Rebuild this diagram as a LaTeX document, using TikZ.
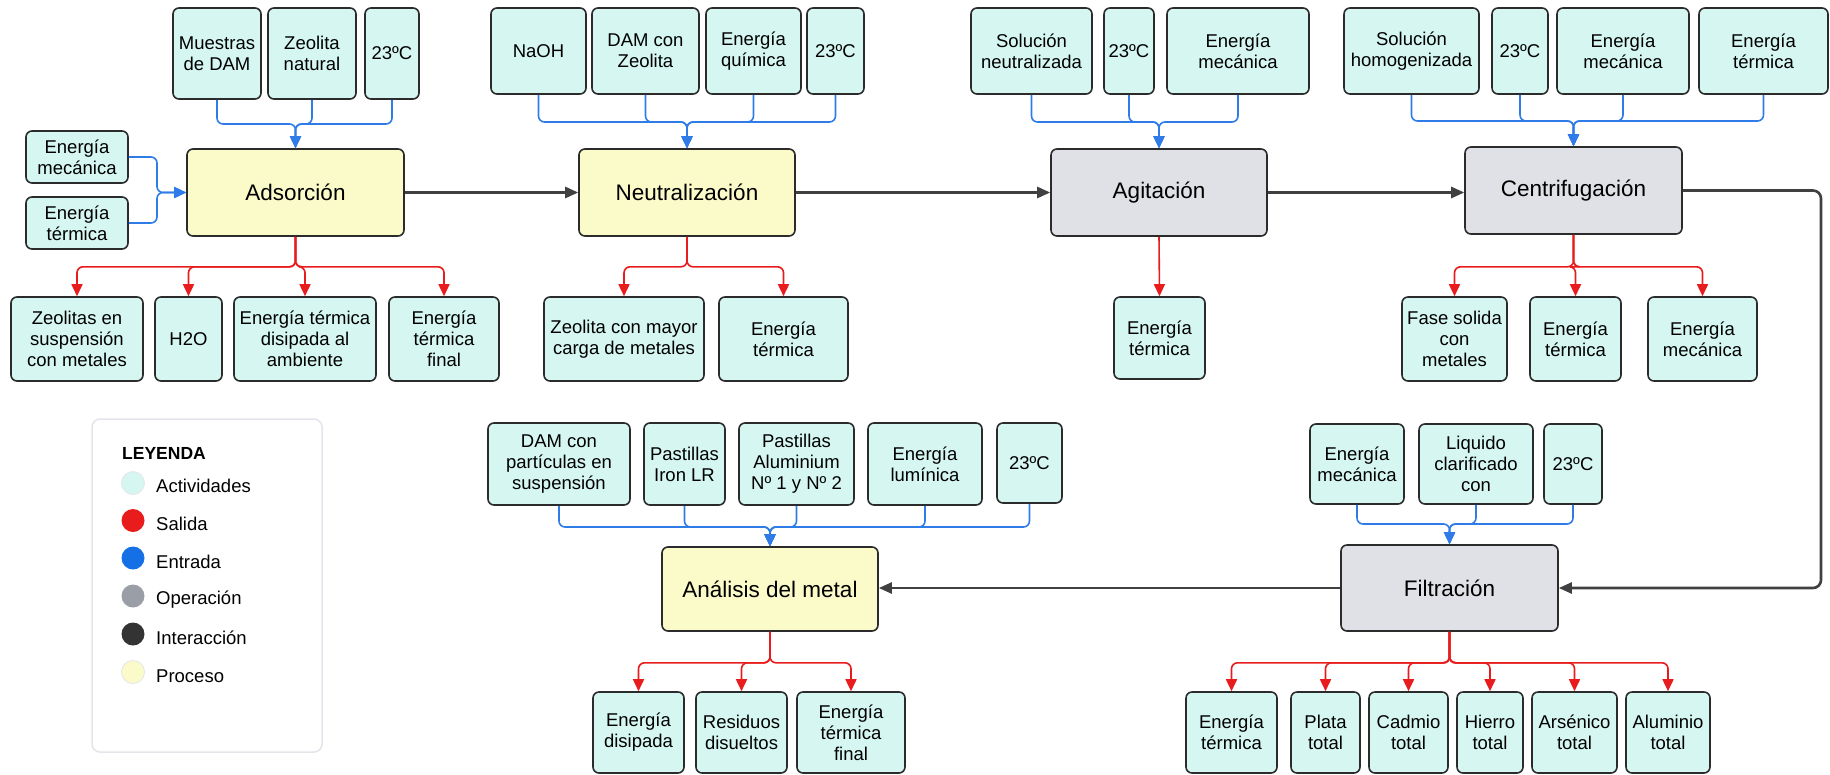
\documentclass[tikz,border=0pt]{standalone}
\usepackage{fontspec}
\setmainfont{Liberation Sans}
\usetikzlibrary{arrows.meta}
\definecolor{actf}{HTML}{D6F7F1}
\definecolor{procf}{HTML}{FBFAC9}
\definecolor{opf}{HTML}{DFE1E6}
\definecolor{bordc}{HTML}{2B2B2B}
\definecolor{bluec}{HTML}{2F7CE8}
\definecolor{redc}{HTML}{E81C1C}
\definecolor{darkc}{HTML}{404040}
\definecolor{legb}{HTML}{E2E5E9}
\definecolor{lgray}{HTML}{9A9EA6}
\definecolor{ldark}{HTML}{333333}
\definecolor{lblue}{HTML}{1570E6}
\tikzset{
  box/.style={draw=bordc, line width=1.6pt, rounded corners=6pt, align=center, inner sep=1pt, text=black, font=\fontsize{18.5}{21}\selectfont},
  act/.style={box, fill=actf},
  proc/.style={box, fill=procf, font=\fontsize{22.5}{26}\selectfont},
  oper/.style={box, fill=opf, font=\fontsize{22.5}{26}\selectfont},
  bl/.style={draw=bluec, line width=1.6pt, rounded corners=6pt, -{Triangle[length=12pt,width=11pt]}},
  rd/.style={draw=redc, line width=1.6pt, rounded corners=6pt, -{Triangle[length=12pt,width=11pt]}},
  dk/.style={draw=darkc, line width=2.6pt, rounded corners=8pt, -{Triangle[length=13pt,width=11pt]}},
  legcirc/.style={circle, minimum size=23pt, inner sep=0pt},
  legtxt/.style={anchor=west, inner sep=0pt, font=\fontsize{18.5}{21}\selectfont},
}
\newcommand{\bx}[7]{\node[#1, minimum width={#5-#3}, minimum height={#6-#4}] (#2) at ({(#3+#5)/2},{(#4+#6)/2}) {#7};}
\begin{document}
\begin{tikzpicture}[x=1pt,y=-1pt]
\useasboundingbox (0,0) rectangle (1830,774);

% ---------- Adsorcion ----------
\bx{act}{a1}{173}{8}{261}{99}{Muestras\\de DAM}
\bx{act}{a2}{268}{8}{356}{99}{Zeolita\\natural}
\bx{act}{a3}{365}{8}{419}{99}{23ºC}
\bx{act}{a4}{26}{131}{128}{183}{Energía\\mecánica}
\bx{act}{a5}{26}{197}{128}{249}{Energía\\térmica}
\bx{proc}{ads}{187}{149}{404}{236}{Adsorción}
\bx{act}{ao1}{11}{297}{143}{381}{Zeolitas en\\suspensión\\con metales}
\bx{act}{ao2}{155}{297}{222}{381}{H2O}
\bx{act}{ao3}{234}{297}{376}{381}{Energía térmica\\disipada al\\ambiente}
\bx{act}{ao4}{389}{297}{499}{381}{Energía\\térmica\\final}

% ---------- Neutralizacion ----------
\bx{act}{n1}{491}{8}{586}{94}{NaOH}
\bx{act}{n2}{592}{8}{699}{94}{DAM con\\Zeolita}
\bx{act}{n3}{706}{8}{801}{94}{Energía\\química}
\bx{act}{n4}{807}{8}{864}{94}{23ºC}
\bx{proc}{neu}{579}{149}{795}{236}{Neutralización}
\bx{act}{no1}{544}{297}{704}{381}{Zeolita con mayor\\carga de metales}
\bx{act}{no2}{719}{297}{848}{381}{Energía\\térmica}

% ---------- Agitacion ----------
\bx{act}{g1}{971}{8}{1092}{94}{Solución\\neutralizada}
\bx{act}{g2}{1104}{8}{1154}{94}{23ºC}
\bx{act}{g3}{1167}{8}{1309}{94}{Energía\\mecánica}
\bx{oper}{agi}{1051}{149}{1267}{236}{Agitación}
\bx{act}{go1}{1114}{297}{1205}{379}{Energía\\térmica}

% ---------- Centrifugacion ----------
\bx{act}{c1}{1344}{8}{1479}{94}{Solución\\homogenizada}
\bx{act}{c2}{1492}{8}{1548}{94}{23ºC}
\bx{act}{c3}{1557}{8}{1689}{94}{Energía\\mecánica}
\bx{act}{c4}{1699}{8}{1828}{94}{Energía\\térmica}
\bx{oper}{cen}{1465}{147}{1682}{234}{Centrifugación}
\bx{act}{co1}{1402}{297}{1507}{381}{Fase solida\\con\\metales}
\bx{act}{co2}{1530}{297}{1621}{381}{Energía\\térmica}
\bx{act}{co3}{1648}{297}{1757}{381}{Energía\\mecánica}

% ---------- Filtracion ----------
\bx{act}{f1}{1310}{424}{1404}{504}{Energía\\mecánica}
\bx{act}{f2}{1419}{424}{1533}{504}{Liquido\\clarificado\\con}
\bx{act}{f3}{1544}{424}{1602}{504}{23ºC}
\bx{oper}{fil}{1341}{545}{1558}{631}{Filtración}
\bx{act}{fo1}{1186}{692}{1277}{773}{Energía\\térmica}
\bx{act}{fo2}{1291}{692}{1360}{773}{Plata\\total}
\bx{act}{fo3}{1369}{692}{1448}{773}{Cadmio\\total}
\bx{act}{fo4}{1457}{692}{1523}{773}{Hierro\\total}
\bx{act}{fo5}{1532}{692}{1617}{773}{Arsénico\\total}
\bx{act}{fo6}{1626}{692}{1710}{773}{Aluminio\\total}

% ---------- Analisis ----------
\bx{act}{m1}{488}{423}{630}{505}{DAM con\\partículas en\\suspensión}
\bx{act}{m2}{644}{423}{725}{505}{Pastillas\\Iron LR}
\bx{act}{m3}{739}{423}{854}{505}{Pastillas\\Aluminium\\Nº 1 y Nº 2}
\bx{act}{m4}{868}{423}{982}{505}{Energía\\lumínica}
\bx{act}{m5}{997}{423}{1062}{503}{23ºC}
\bx{proc}{ana}{662}{547}{878}{631}{Análisis del metal}
\bx{act}{mo1}{593}{692}{684}{773}{Energía\\disipada}
\bx{act}{mo2}{696}{692}{787}{773}{Residuos\\disueltos}
\bx{act}{mo3}{797}{692}{905}{773}{Energía\\térmica\\final}

% ---------- Legend ----------
\node[draw=legb, line width=1.5pt, rounded corners=8pt, minimum width=230, minimum height=333, inner sep=0pt] (leg) at (207,585.5) {};
\node[anchor=west, inner sep=0pt, font=\bfseries\fontsize{17.5}{20}\selectfont] (legt) at (122,453) {LEYENDA};
\node[legcirc, fill=actf, draw=legb, line width=0.8pt] (lc1) at (133,483) {};
\node[legcirc, fill=redc] (lc2) at (133,520.5) {};
\node[legcirc, fill=lblue] (lc3) at (133,558) {};
\node[legcirc, fill=lgray] (lc4) at (133,596) {};
\node[legcirc, fill=ldark] (lc5) at (133,634) {};
\node[legcirc, fill=procf, draw=legb, line width=0.8pt] (lc6) at (133,672) {};
\node[legtxt] (lt1) at (156,486) {Actividades};
\node[legtxt] (lt2) at (156,524) {Salida};
\node[legtxt] (lt3) at (156,562) {Entrada};
\node[legtxt] (lt4) at (156,600) {Operación};
\node[legtxt] (lt5) at (156,638) {Interacción};
\node[legtxt] (lt6) at (156,676) {Proceso};

% ---------- Input connectors ----------
\coordinate (ja) at (295.5,124);
\foreach \n in {a1,a2,a3} \draw[bl] (\n.south) |- (ja) -- (ads.north);
\coordinate (jl) at (157,192.5);
\foreach \n in {a4,a5} \draw[bl] (\n.east) -| (jl) -- (ads.west);
\coordinate (jn) at (687,122);
\foreach \n in {n1,n2,n3,n4} \draw[bl] (\n.south) |- (jn) -- (neu.north);
\coordinate (jg) at (1159,122);
\foreach \n in {g1,g2,g3} \draw[bl] (\n.south) |- (jg) -- (agi.north);
\coordinate (jc) at (1573.5,121);
\foreach \n in {c1,c2,c3,c4} \draw[bl] (\n.south) |- (jc) -- (cen.north);
\coordinate (jf) at (1449.5,524);
\foreach \n in {f1,f2,f3} \draw[bl] (\n.south) |- (jf) -- (fil.north);
\coordinate (jm) at (770,527);
\foreach \n in {m1,m2,m3,m4,m5} \draw[bl] (\n.south) |- (jm) -- (ana.north);

% ---------- Output connectors ----------
\foreach \n in {ao1,ao2,ao3,ao4} \draw[rd] (ads.south) -- ++(0,30) -| (\n.north);
\foreach \n in {no1,no2} \draw[rd] (neu.south) -- ++(0,30) -| (\n.north);
\draw[rd] (agi.south) -- (go1.north);
\foreach \n in {co1,co2,co3} \draw[rd] (cen.south) -- ++(0,32) -| (\n.north);
\foreach \n in {fo1,fo2,fo3,fo4,fo5,fo6} \draw[rd] (fil.south) -- ++(0,31) -| (\n.north);
\foreach \n in {mo1,mo2,mo3} \draw[rd] (ana.south) -- ++(0,31) -| (\n.north);

% ---------- Main flow ----------
\draw[dk] (ads.east) -- (neu.west);
\draw[dk] (neu.east) -- (agi.west);
\draw[dk] (agi.east) -- (agi.east -| cen.west);
\coordinate (rc) at (1821,588);
\draw[dk] (cen.east) -| (rc) -- (fil.east);
\draw[dk] (fil.west) -- (fil.west -| ana.east);
\end{tikzpicture}
\end{document}
